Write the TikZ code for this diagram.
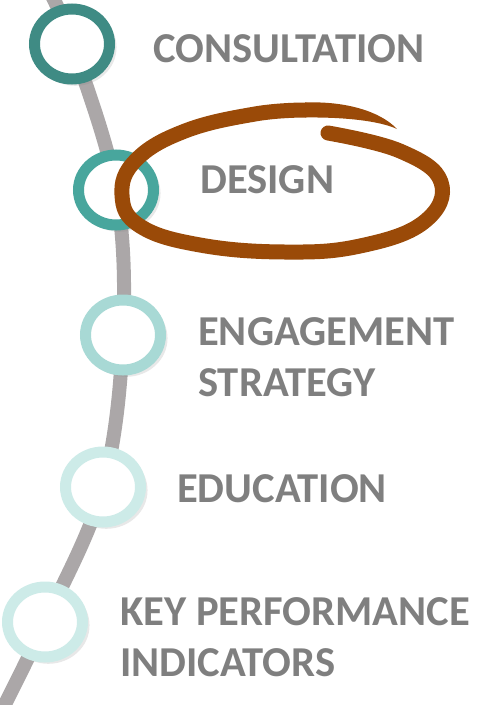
\documentclass[tikz,border=0pt]{standalone}
\usepackage{fontspec}
\setmainfont{Carlito}
\usetikzlibrary{shapes.geometric, shadows, backgrounds}
\definecolor{ringdark}{HTML}{3F8B84}
\definecolor{ringmid}{HTML}{48A69D}
\definecolor{ringlight}{HTML}{A8D9D5}
\definecolor{ringpale}{HTML}{CDEBE8}
\definecolor{trackgray}{HTML}{ABA7A8}
\definecolor{stepgray}{HTML}{7F7F7F}
\definecolor{markbrown}{HTML}{9A4A08}

\begin{document}
\begin{tikzpicture}[x=1pt, y=-1pt,
        ring/.style={ellipse, draw=#1, line width=11pt, fill=white, inner sep=0pt,
            minimum width=75pt, minimum height=70pt,
            drop shadow={shadow scale=1.1, shadow xshift=3pt, shadow yshift=-3pt, opacity=0.18}},
        steptext/.style={anchor=base west, inner sep=0pt, align=left, text=stepgray,
            font=\fontsize{42.6}{51}\selectfont\bfseries},
        track/.style={draw=trackgray, line width=14pt},
        circled/.style={draw=markbrown, line width=15pt, line cap=round, line join=round}]
            \useasboundingbox (0,0) rectangle (496,705);
            \foreach \n/\x/\y/\c in {1/72/44/ringdark, 2/116/190/ringmid, 3/123/335/ringlight, 4/103/487/ringpale, 5/45/622/ringpale}{
                \node[ring=\c] (c\n) at (\x,\y) {};
            }
            \coordinate (top) at (48,-12);
            \coordinate (bottom) at (-2,718);
            \begin{scope}[on background layer]
                \draw[track] plot[smooth, tension=0.6] coordinates {(top) (c1.center) (c2.center) (c3.center) (c4.center) (c5.center) (bottom)};
            \end{scope}

            \node[steptext] (t1) at (153,62) {CONSULTATION};
            \node[steptext] (t2) at (200,193) {DESIGN};
            \node[steptext] (t3) at (198,396) {ENGAGEMENT\\STRATEGY};
            \node[steptext] (t4) at (177,502) {EDUCATION};
            \node[steptext] (t5) at (120,676) {KEY PERFORMANCE\\INDICATORS};

            \draw[circled] plot[smooth, tension=0.7] coordinates {(328,133) (400,151) (441,182) (424,222) (360,246) (285,252) (200,245) (140,226) (122,195) (136,160) (185,131) (255,114) (305,110)};
            \fill[markbrown] (305,102.5) .. controls (345,101) and (380,111) .. (397,129) .. controls (380,121) and (345,117) .. (305,117.5) -- cycle;
        \end{tikzpicture}
\end{document}
